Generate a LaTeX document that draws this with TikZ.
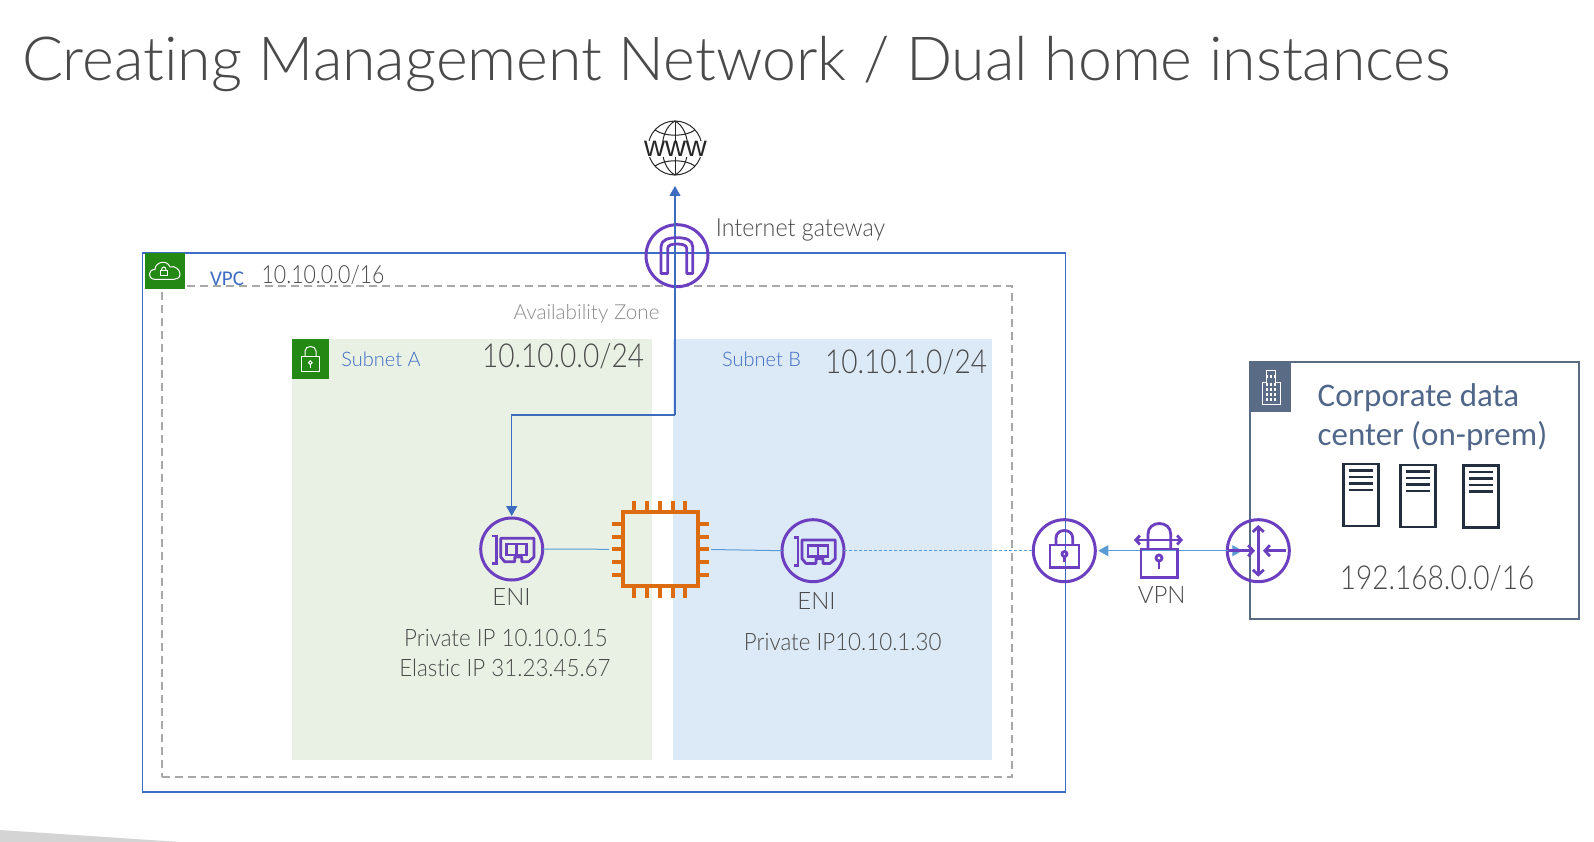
\documentclass[tikz,border=0pt]{standalone}
\usepackage{fontspec}
\setmainfont{Lato}[UprightFont=* Light,Ligatures=NoCommon]
\newfontfamily\narrowd{Lato}[UprightFont=* Light,FakeStretch=0.85]
\newfontfamily\narrowt{Lato}[UprightFont=* Light,FakeStretch=0.93,Ligatures=NoCommon]
\newfontfamily\calib{Carlito}
\newfontfamily\arialf{Liberation Sans}
\usetikzlibrary{arrows.meta}
\definecolor{vpcblue}{HTML}{3F6CC4}
\definecolor{linkblue}{HTML}{3D6CBF}
\definecolor{lightblue}{HTML}{5A9BD5}
\definecolor{iconpurple}{HTML}{6B3FBF}
\definecolor{awsgreen}{HTML}{248814}
\definecolor{subnetgreen}{HTML}{E8F1E4}
\definecolor{subnetblue}{HTML}{DCE9F6}
\definecolor{dcslate}{HTML}{5A6B86}
\definecolor{dctext}{HTML}{50678A}
\definecolor{darktext}{HTML}{4A4A4A}
\definecolor{chiporange}{HTML}{DD6B10}
\definecolor{servernavy}{HTML}{232F3E}
\definecolor{azgray}{HTML}{A8A8A8}
\tikzset{
  x=1pt,y=-1pt,
  every node/.style={inner sep=0pt,outer sep=0pt},
  txt/.style={text=darktext,anchor=center},
  iconcircle/.style={circle,draw=iconpurple,line width=3pt,minimum size=62pt},
  iconline/.style={draw=iconpurple,line width=2.8pt},
  conn/.style={draw=linkblue,line width=1.1pt},
  thinconn/.style={draw=lightblue,line width=1pt},
  chiptip/.style={-{Triangle[length=10pt,width=11pt]}},
  whiteicon/.style={draw=white,line width=1pt},
  pinline/.style={draw=chiporange,line width=3.8pt},
  serverbox/.style={draw=servernavy,line width=2.4pt,rectangle,fill=white,minimum width=35pt,minimum height=62pt},
  eniicon/.pic={
    \draw[iconline] (-19.5,-13) -- (-15,-13) -- (-15,14.5) -- (-19.5,14.5);
    \draw[iconline,line join=round] (-11,-10.7) -- (22.3,-10.7) -- (22.3,8) -- (17,12.7) -- (10,12.7) -- (10,8) -- (3,8) -- (3,12.7) -- (-7,12.7) -- (-11,8) -- cycle;
    \draw[iconline] (-5,-5) rectangle (15,6);
    \draw[iconline] (5,-5) -- (5,6);
  }
}
\begin{document}
\begin{tikzpicture}
\useasboundingbox (0,0) rectangle (1594,842);
\fill[white] (0,0) rectangle (1594,842);
\fill[black!17] (0,830) -- (180,842) -- (0,842) -- cycle;

% title
\node[txt,anchor=base west] (title) at (22,81) {\fontsize{60.8}{68}\selectfont Creating Management Network / Dual home instances};

% containers
\node[fill=subnetgreen,minimum width=360pt,minimum height=420.5pt,anchor=north west] (subnetA) at (292,339) {};
\node[fill=subnetblue,minimum width=319pt,minimum height=420.5pt,anchor=north west] (subnetB) at (673,339) {};
\node[draw=azgray,line width=1.7pt,dash pattern=on 8pt off 5pt,minimum width=850pt,minimum height=491pt,anchor=north west] (az) at (161.7,285.7) {};
\node[draw=vpcblue,line width=1.9pt,minimum width=923pt,minimum height=539pt,anchor=north west] (vpc) at (142.5,252.7) {};
\node[draw=dcslate,line width=1.8pt,minimum width=329pt,minimum height=257pt,anchor=north west] (dc) at (1250,362) {};

% tags
\node[fill=awsgreen,minimum width=40pt,minimum height=36pt,anchor=north west] (vpctag) at (145,253) {};
\draw[whiteicon,line join=round] (155,279.3) .. controls (147,279.3) and (148,269) .. (155,269.5) .. controls (155,262) and (167,259) .. (170,267) .. controls (175,265) and (180,270) .. (180,274) .. controls (180,278) and (177,279.3) .. (174,279.3) -- cycle;
\draw[whiteicon] (160,270) rectangle (167.5,275.5);
\draw[whiteicon] (161.5,270) .. controls (161.5,266) and (166,266) .. (166,270);
\node[fill=awsgreen,minimum width=37.6pt,minimum height=39.7pt,anchor=north west] (subtag) at (291.7,339) {};
\draw[whiteicon] (301.7,356.7) rectangle (319,371);
\draw[whiteicon] (305,356.7) -- (305,351) .. controls (305,345) and (316,345) .. (316,351) -- (316,356.7);
\draw[whiteicon] (310.3,362.7) circle (1.8pt);
\draw[whiteicon] (310.3,364.5) -- (310.3,368);
\node[fill=dcslate,minimum width=41pt,minimum height=50pt,anchor=north west] (dctag) at (1250,362) {};
\draw[draw=white,line width=0.9pt] (1262,404) -- (1262,382) -- (1266,382) -- (1266,370) -- (1275,370) -- (1275,382) -- (1280.5,382) -- (1280.5,404) -- cycle;
\foreach \bx in {1267,1271,1275}{\foreach \by in {376,384,389,394,399}{\fill[white] (\bx-0.8,\by-1) rectangle (\bx+0.8,\by+1.5);}}

% labels
\node[txt,text=vpcblue] (vpclabel) at (227,279) {\calib\fontsize{21}{24}\selectfont VPC};
\node[txt] (vpccidr) at (323,275) {\narrowd\fontsize{25}{28}\selectfont 10.10.0.0/16};
\node[txt,text=black!45] (azlabel) at (586.5,314) {\fontsize{20.7}{24}\selectfont Availability Zone};
\node[txt,text=vpcblue] (subA) at (381,359) {\fontsize{20}{24}\selectfont Subnet A};
\node[txt] (cidrA) at (563,356) {\narrowd\fontsize{33}{36}\selectfont 10.10.0.0/24};
\node[txt,text=vpcblue] (subB) at (761.5,359) {\fontsize{20}{24}\selectfont Subnet B};
\node[txt] (cidrB) at (906,362) {\narrowd\fontsize{33}{36}\selectfont 10.10.1.0/24};
\node[txt] (igwlabel) at (800.5,230) {\narrowt\fontsize{25}{28}\selectfont Internet gateway};
\node[txt] (eniAlabel) at (511.5,597) {\fontsize{24}{28}\selectfont ENI};
\node[txt] (eniBlabel) at (816.5,601) {\fontsize{24}{28}\selectfont ENI};
\node[txt] (ipA) at (506,638) {\narrowt\fontsize{24}{28}\selectfont Private IP 10.10.0.15};
\node[txt] (eipA) at (505,668) {\narrowt\fontsize{24}{28}\selectfont Elastic IP 31.23.45.67};
\node[txt] (ipB) at (842.7,642) {\narrowt\fontsize{24}{28}\selectfont Private IP10.10.1.30};
\node[txt] (vpnlabel) at (1161.7,595) {\fontsize{24}{28}\selectfont VPN};
\node[txt,text=dctext,align=left,anchor=west,font=\calib\fontsize{33}{39}\selectfont] (dclabel) at (1317.7,417) {Corporate data\\center (on-prem)};
\node[txt] (dccidr) at (1437,578) {\narrowd\fontsize{33}{36}\selectfont 192.168.0.0/16};

% www globe
\node[circle,draw=black!85,line width=1pt,minimum size=54pt] (www) at (675,148) {};
\draw[black!85,line width=1pt] (675,121) -- (675,175);
\draw[black!85,line width=1pt] (675,121) .. controls (658,130) and (658,166) .. (675,175);
\draw[black!85,line width=1pt] (675,121) .. controls (692,130) and (692,166) .. (675,175);
\draw[black!85,line width=1pt] (655,130) .. controls (665,137) and (685,137) .. (695,130);
\draw[black!85,line width=1pt] (655,166) .. controls (665,159) and (685,159) .. (695,166);
\fill[white] (640,141) rectangle (710,157);
\node[text=black!85,anchor=center] (wwwtext) at (675.5,149) {\arialf\fontsize{29}{30}\selectfont www};

% connectors
\coordinate (bendA) at (675,415);
\coordinate (bendB) at (511.7,415);

% compute node
\node[draw=chiporange,line width=3.8pt,minimum width=75.5pt,minimum height=74.5pt] (chip) at (660.5,549) {};
\foreach \py in {524,536.7,549.3,562,575}{
  \draw[pinline] (612,\py) -- (621,\py);
  \draw[pinline] (700,\py) -- (709,\py);
}
\foreach \px in {634,647,660,672.7,685.3}{
  \draw[pinline] (\px,500.7) -- (\px,510);
  \draw[pinline] (\px,588) -- (\px,598);
}

% icon nodes
\node[iconcircle] (igw) at (677,255.7) {};
\node[iconcircle] (eniA) at (511.7,549) {};
\node[iconcircle] (eniB) at (813,550.7) {};
\node[iconcircle] (vgw) at (1064.3,550.7) {};
\node[iconcircle] (router) at (1258.3,550.7) {};
\coordinate (chipW) at (609,549.3);
\coordinate (chipE) at (711,549.5);

\draw[conn,chiptip,shorten >=2pt] (bendA) -- (bendB) -- (eniA.north);
\draw[conn,chiptip,shorten >=11pt] (bendA) -- (www.south);
\draw[thinconn] (eniA.east) -- (chipW);
\draw[thinconn] (chipE) -- (eniB.west);
\draw[thinconn,densely dashed,line width=0.9pt] (eniB.east) -- (vgw.west);
\draw[thinconn,{Triangle[length=10pt,width=11pt]}-{Triangle[length=10pt,width=11pt]},shorten <=3pt,shorten >=-15pt] (vgw.east) -- (router.west);

% IGW icon
\draw[iconline,line join=round] (661,273.4) -- (661,246.7) .. controls (661,240) and (668,237.7) .. (677,237.7) .. controls (686,237.7) and (692.7,240) .. (692.7,246.7) -- (692.7,273.4) -- (686.7,273.4) -- (686.7,248.4) .. controls (686.7,245) and (682,244) .. (677,244) .. controls (672,244) and (667.7,245) .. (667.7,248.4) -- (667.7,273.4) -- cycle;

% ENI icons
\pic at (511.7,549) {eniicon};
\pic at (813,550.7) {eniicon};

% VGW lock icon
\draw[iconline] (1050,545) rectangle (1079,567.7);
\draw[iconline] (1056,545) -- (1056,538) .. controls (1056,528) and (1072.7,528) .. (1072.7,538) -- (1072.7,545);
\draw[iconline] (1064.5,554) circle (2.5pt);
\draw[iconline] (1064.5,556.5) -- (1064.5,562);

% VPN icon
\draw[iconline] (1141,549) rectangle (1177.7,577.7);
\draw[iconline] (1148,549) -- (1148,534) .. controls (1148,520) and (1170.7,520) .. (1170.7,534) -- (1170.7,549);
\draw[iconline] (1159,558) circle (3pt);
\draw[iconline] (1159,561) -- (1159,569);
\draw[iconline,{Straight Barb[length=4pt,width=9pt]}-{Straight Barb[length=4pt,width=9pt]}] (1134,540) -- (1183,540);

% router icon
\draw[iconline,{Straight Barb[length=5pt,width=11pt]}-{Straight Barb[length=5pt,width=11pt]}] (1258.3,525) -- (1258.3,576.7);
\draw[iconline,-{Straight Barb[length=5pt,width=11pt]}] (1228,550.7) -- (1255,550.7);
\draw[iconline,-{Straight Barb[length=5pt,width=11pt]}] (1285.7,550.7) -- (1263,550.7);

% servers
\foreach \nm/\sx/\sy in {srvA/1360.8/495,srvB/1418/496,srvC/1481/496.5}{
  \node[serverbox] (\nm) at (\sx,\sy) {};
  \foreach \ly in {-24.5,-18,-11.5,-5}{
    \draw[servernavy,line width=2.2pt] (\sx-12,\sy+\ly) -- (\sx+12,\sy+\ly);
  }
}
\end{tikzpicture}
\end{document}
